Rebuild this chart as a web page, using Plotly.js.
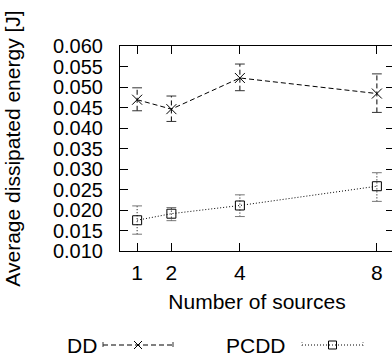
<!DOCTYPE html>
<html><head><meta charset="utf-8">
<script src="https://cdn.plot.ly/plotly-3.0.1.min.js"></script>
<style>html,body{margin:0;padding:0;overflow:hidden;background:#fff}</style>
</head><body><div id="chart"></div>
<script>
// ---- data ----
const sources = [1, 2, 4, 8];
const xTickLabels = ['1', '2', '4', '8'];
const ddMean = [0.0469, 0.0446, 0.0522, 0.0484];
const ddLow = [0.0442, 0.0416, 0.0491, 0.0438];
const ddHigh = [0.0498, 0.0478, 0.0556, 0.0532];
const pcddMean = [0.0175, 0.0191, 0.0211, 0.0258];
const pcddLow = [0.0141, 0.0174, 0.0184, 0.0221];
const pcddHigh = [0.0210, 0.0206, 0.0237, 0.0291];
const yTickVals = [0.010, 0.015, 0.020, 0.025, 0.030, 0.035, 0.040, 0.045, 0.050, 0.055, 0.060];
const seriesNames = ['DD', 'PCDD'];

const FONT = 'Liberation Sans, Arial, Helvetica, sans-serif';
const FS = 21;
const W = 394, H = 358, ML = 120, MT = 46, MB = 107, MR = 0;
const PW = W - ML - MR, PH = H - MT - MB;
const px = x => (x - ML) / PW;
const py = y => (H - MB - y) / PH;

function errSegments(x, lo, hi) {
  const xs = [], ys = [];
  for (let i = 0; i < x.length; i++) { xs.push(x[i], x[i], null); ys.push(lo[i], hi[i], null); }
  return {xs, ys};
}
function errTraces(x, lo, hi, dash, capColor) {
  const s = errSegments(x, lo, hi);
  return [
    {x: s.xs, y: s.ys, mode: 'lines', line: {color: '#000', width: 1, dash: dash}, hoverinfo: 'skip', showlegend: false},
    {x: x.concat(x), y: lo.concat(hi), mode: 'markers', hoverinfo: 'skip', showlegend: false,
     marker: {symbol: 'line-ew-open', size: 7, color: capColor, line: {width: 1, color: capColor}}}
  ];
}
const DASH = '5px,3px', DOT = '1px,2px';

const traces = [
  ...errTraces(sources, ddLow, ddHigh, DASH, '#333'),
  ...errTraces(sources, pcddLow, pcddHigh, DOT, '#777'),
  {x: sources, y: ddMean, name: seriesNames[0], mode: 'lines+markers', showlegend: false,
   line: {color: '#000', width: 1, dash: DASH},
   marker: {symbol: 'x-thin-open', size: 10, color: '#000', line: {width: 1, color: '#000'}}},
  {x: sources, y: pcddMean, name: seriesNames[1], mode: 'lines+markers', showlegend: false,
   line: {color: '#000', width: 1, dash: DOT},
   marker: {symbol: 'square-open', size: 9, color: '#000', line: {width: 1, color: '#000'}}}
];

// custom gnuplot-style key (text left of sample)
const keyY = 345;
const shapes = [];
const annotations = [];
function keyEntry(label, textRight, x0, x1, dash, capColor, marker) {
  annotations.push({xref: 'paper', yref: 'paper', x: px(textRight), y: py(keyY), xanchor: 'right', yanchor: 'middle',
    text: label, showarrow: false, font: {family: FONT, size: FS, color: '#000'}});
  shapes.push({type: 'line', xref: 'paper', yref: 'paper', x0: px(x0), x1: px(x1), y0: py(keyY), y1: py(keyY), line: {color: '#000', width: 1, dash: dash}});
  [x0, x1].forEach(xx => shapes.push({type: 'line', xref: 'paper', yref: 'paper', x0: px(xx), x1: px(xx), y0: py(keyY - 3), y1: py(keyY + 3), line: {color: capColor, width: 1, dash: dash}}));
  const cx = (x0 + x1) / 2, r = 4;
  if (marker === 'x') {
    shapes.push({type: 'line', xref: 'paper', yref: 'paper', x0: px(cx - r), x1: px(cx + r), y0: py(keyY - r), y1: py(keyY + r), line: {color: '#000', width: 1}});
    shapes.push({type: 'line', xref: 'paper', yref: 'paper', x0: px(cx - r), x1: px(cx + r), y0: py(keyY + r), y1: py(keyY - r), line: {color: '#000', width: 1}});
  } else {
    shapes.push({type: 'rect', xref: 'paper', yref: 'paper', x0: px(cx - r), x1: px(cx + r), y0: py(keyY + r), y1: py(keyY - r), line: {color: '#000', width: 1}, fillcolor: 'rgba(0,0,0,0)'});
  }
}
keyEntry(seriesNames[0], 99, 103, 173, DASH, '#333', 'x');
keyEntry(seriesNames[1], 288, 302, 363, DOT, '#777', 's');

const layout = {
  width: W, height: H,
  margin: {l: ML, r: MR, t: MT, b: MB, pad: 0},
  paper_bgcolor: '#fff', plot_bgcolor: '#fff',
  font: {family: FONT, size: FS, color: '#000'},
  showlegend: false,
  xaxis: {
    range: [0.5, 8.5], tickmode: 'array', tickvals: sources, ticktext: xTickLabels,
    ticks: 'inside', ticklen: 8, tickwidth: 1, tickcolor: '#000',
    showline: true, linecolor: '#000', linewidth: 1, mirror: 'ticks',
    showgrid: false, zeroline: false, ticklabelstandoff: 3,
    tickfont: {family: FONT, size: FS, color: '#000'},
    title: {text: 'Number of sources', font: {family: FONT, size: FS, color: '#000'}, standoff: 11}
  },
  yaxis: {
    range: [0.010, 0.060], tickmode: 'array', tickvals: yTickVals,
    ticktext: yTickVals.map(v => v.toFixed(3)),
    ticks: 'inside', ticklen: 8, tickwidth: 1, tickcolor: '#000',
    showline: true, linecolor: '#000', linewidth: 1, mirror: 'ticks',
    showgrid: false, zeroline: false, ticklabelstandoff: 12,
    tickfont: {family: FONT, size: 20, color: '#000'},
    title: {text: 'Average dissipated energy [J]', font: {family: FONT, size: FS, color: '#000'}, standoff: 26}
  },
  shapes: shapes,
  annotations: annotations
};
Plotly.newPlot('chart', traces, layout, {staticPlot: true, displayModeBar: false});
</script>
</body></html>
